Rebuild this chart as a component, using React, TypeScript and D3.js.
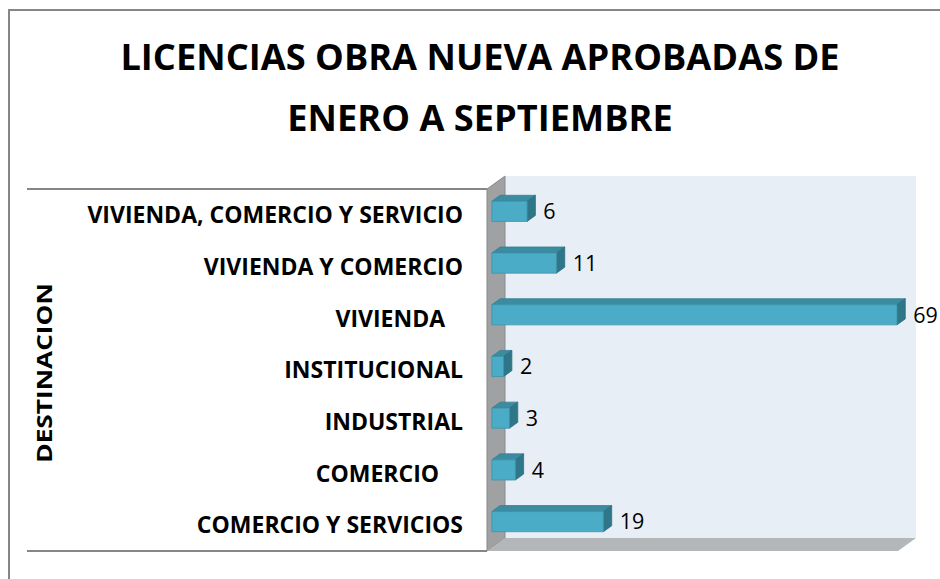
import React from "react";
import * as d3 from "d3";

const categories = [
  "VIVIENDA, COMERCIO Y SERVICIO",
  "VIVIENDA Y COMERCIO",
  "VIVIENDA   ",
  "INSTITUCIONAL",
  "INDUSTRIAL",
  "COMERCIO    ",
  "COMERCIO Y SERVICIOS",
];
const values = [6, 11, 69, 2, 3, 4, 19];
const titleLines = ["LICENCIAS OBRA NUEVA APROBADAS DE", "ENERO A SEPTIEMBRE"];
const axisTitle = "DESTINACION";
const valueMax = 70;

const W = 940;
const H = 579;
// front plane of the plot
const X0 = 487;
const X1 = 898;
const Y0 = 189;
const Y1 = 551;
// depth offset
const DX = 18;
const DY = -13;
const D0 = 0.27;
const D1 = 0.73;

const FONT = "'Open Sans', 'Noto Sans', sans-serif";

export default function App() {
  const x = d3.scaleLinear().domain([0, valueMax]).range([X0, X1]);
  const y = d3.scaleBand<string>().domain(categories).range([Y0, Y1]).paddingInner(0.61).paddingOuter(0.305);

  const backWall = [
    [X0 + DX, Y0 + DY],
    [X1 + DX, Y0 + DY],
    [X1 + DX, Y1 + DY],
    [X0 + DX, Y1 + DY],
  ];
  const sideWall = [
    [X0, Y0],
    [X0 + DX, Y0 + DY],
    [X0 + DX, Y1 + DY],
    [X0, Y1],
  ];
  const floor = [
    [X0, Y1],
    [X0 + DX, Y1 + DY],
    [X1 + DX, Y1 + DY],
    [X1, Y1],
  ];
  const pts = (p: number[][]) => p.map((q) => q.join(",")).join(" ");

  return (
    <svg
      width={W}
      height={H}
      style={{ position: "absolute", left: 0, top: 0, background: "#fff" }}
    >
      <rect x={9} y={10} width={W + 20} height={H + 20} fill="#fff" stroke="#868686" strokeWidth={2} />

      {/* title */}
      {titleLines.map((t, i) => (
        <text
          key={i}
          x={480}
          y={70 + i * 61.5}
          textAnchor="middle"
          fontFamily={FONT}
          fontWeight={700}
          fontSize={35}
          fill="#000"
          transform={`translate(480,0) scale(1.035,1) translate(-480,0)`}
        >
          {t}
        </text>
      ))}

      {/* walls */}
      <polygon points={pts(backWall)} fill="#e8eef6" />
      <polygon points={pts(sideWall)} fill="#a0a1a3" stroke="#8a8a8a" strokeWidth={1} />
      <polygon points={pts(floor)} fill="#b4b7ba" />

      {/* category group lines */}
      <line x1={27} x2={X0} y1={Y0} y2={Y0} stroke="#868686" strokeWidth={2} />
      <line x1={27} x2={X0} y1={Y1} y2={Y1} stroke="#868686" strokeWidth={2} />

      {/* bars */}
      {categories.map((c, i) => {
        const v = values[i];
        const yt = y(c)!;
        const yb = yt + y.bandwidth();
        const xs = x(0);
        const xe = x(v);
        const fx = D0 * DX;
        const fy = D0 * DY;
        const bx = D1 * DX;
        const by = D1 * DY;
        const front = [
          [xs + fx, yt + fy],
          [xe + fx, yt + fy],
          [xe + fx, yb + fy],
          [xs + fx, yb + fy],
        ];
        const top = [
          [xs + fx, yt + fy],
          [xs + bx, yt + by],
          [xe + bx, yt + by],
          [xe + fx, yt + fy],
        ];
        const side = [
          [xe + fx, yt + fy],
          [xe + bx, yt + by],
          [xe + bx, yb + by],
          [xe + fx, yb + fy],
        ];
        return (
          <g key={c}>
            <polygon points={pts(top)} fill="#3b8ba1" stroke="#357f93" strokeWidth={0.8} />
            <polygon points={pts(side)} fill="#2f7689" stroke="#2c6f81" strokeWidth={0.8} />
            <polygon points={pts(front)} fill="#4aacc6" stroke="#3d93aa" strokeWidth={0.8} />
            <text
              x={xe + bx + 8}
              y={yt + fy + y.bandwidth() / 2}
              dy="0.36em"
              fontFamily={FONT}
              fontSize={21.5}
              fill="#000"
            >
              {v}
            </text>
          </g>
        );
      })}

      {/* category labels */}
      {categories.map((c) => {
        const cy = y(c)! + y.bandwidth() / 2;
        return (
          <text
            key={c}
            x={0}
            y={0}
            dy="0.36em"
            textAnchor="end"
            fontFamily={FONT}
            fontWeight={700}
            fontSize={23}
            fill="#000"
            style={{ whiteSpace: "pre" }}
            transform={`translate(463,${cy}) scale(1,1)`}
          >
            {c}
          </text>
        );
      })}

      {/* axis title */}
      <text
        transform={`translate(52,${(Y0 + Y1) / 2 + 3}) rotate(-90) scale(1.25,1)`}
        textAnchor="middle"
        fontFamily={FONT}
        fontWeight={700}
        fontSize={21}
        fill="#000"
      >
        {axisTitle}
      </text>
    </svg>
  );
}
